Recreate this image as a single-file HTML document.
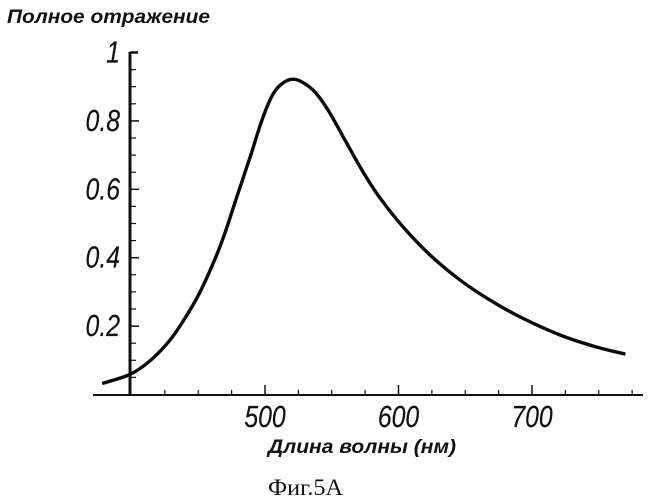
<!DOCTYPE html>
<html lang="ru">
<head>
<meta charset="utf-8">
<title>Фиг.5А</title>
<style>
html,body{margin:0;padding:0;background:#fff;width:649px;height:500px;overflow:hidden}
svg{display:block}
text{fill:#111}
.tick-label{font-family:"Liberation Sans",sans-serif;font-style:italic;font-size:31px;stroke:#111;stroke-width:0.2px}
.axis-title{font-family:"Liberation Sans",sans-serif;font-style:italic;font-weight:bold;font-size:19px}
.caption{font-family:"Liberation Serif",serif;font-size:23px}
</style>
</head>
<body>
<svg id="chart" width="649" height="500" viewBox="0 0 649 500" xmlns="http://www.w3.org/2000/svg">
<text class="axis-title" x="7" y="23" textLength="203" lengthAdjust="spacingAndGlyphs">Полное отражение</text>
<text class="axis-title" x="268" y="453" textLength="188" lengthAdjust="spacingAndGlyphs">Длина волны (нм)</text>
<text class="caption" x="268" y="495" textLength="75" lengthAdjust="spacingAndGlyphs">Фиг.5А</text>
</svg>
<script>
const wavelengths = [378,399,414,429,441,451,461,469,479,489,496.3,501.5,506.7,513.5,521,528.5,537.5,546.2,553.7,561.2,573.4,586.1,603.4,623.6,646,668.5,691,721,749,770];
const reflectance = [0.032,0.059,0.099,0.16,0.229,0.297,0.382,0.461,0.579,0.696,0.786,0.841,0.883,0.911,0.922,0.912,0.884,0.838,0.788,0.735,0.651,0.575,0.49,0.408,0.335,0.276,0.227,0.174,0.138,0.118];
const xTickValues = [500,600,700];
const yTickValues = [0.2,0.4,0.6,0.8,1];
const yTickLabels = ['0.2','0.4','0.6','0.8','1'];
const xMinorTicks = [425,450,475,525,550,575,625,650,675,725,750,775];
const yMinorTicks = [0.05,0.1,0.15,0.25,0.3,0.35,0.45,0.5,0.55,0.65,0.7,0.75,0.85,0.9,0.95];

const svgNS = 'http://www.w3.org/2000/svg';
const svg = document.getElementById('chart');
function xs(v){ return 265 + (v - 500) * 1.335; }
function ys(v){ return 394.5 - v * 342; }
function addLine(x1,y1,x2,y2,w){
  const l = document.createElementNS(svgNS,'line');
  l.setAttribute('x1',x1); l.setAttribute('y1',y1);
  l.setAttribute('x2',x2); l.setAttribute('y2',y2);
  l.setAttribute('stroke','#111'); l.setAttribute('stroke-width',w);
  svg.appendChild(l);
  return l;
}
const xAxis = addLine(93,395,643,395,2);


const yAxis = addLine(130,52,130,396,3);



xMinorTicks.forEach(function(v){
  const t = addLine(xs(v),395,xs(v),390,1.2);
  
  
});
yMinorTicks.forEach(function(v){
  const t = addLine(130,ys(v),136,ys(v),1.2);
  
  
});
xTickValues.forEach(function(v){
  const t = addLine(xs(v),395,xs(v),385,1.5);
  
  
  const label = document.createElementNS(svgNS,'text');
  label.setAttribute('class','tick-label');
  label.setAttribute('text-anchor','middle');
  label.setAttribute('transform','translate(' + xs(v) + ',427) scale(0.8,1)');
  label.textContent = String(v);
  
  
  svg.appendChild(label);
});
yTickValues.forEach(function(v,i){
  const t = addLine(130,ys(v),v === 1 ? 138 : 139,ys(v),v === 1 ? 2.5 : 1.5);
  
  
  const label = document.createElementNS(svgNS,'text');
  label.setAttribute('class','tick-label');
  label.setAttribute('text-anchor','end');
  label.setAttribute('transform','translate(120,' + (ys(v) + 10) + ') scale(0.8,1)');
  label.textContent = yTickLabels[i];
  
  
  svg.appendChild(label);
});

const pts = wavelengths.map(function(w,i){ return [xs(w), ys(reflectance[i])]; });
let d = 'M' + pts[0][0] + ' ' + pts[0][1];
for (let i = 0; i < pts.length - 1; i++) {
  const p0 = pts[Math.max(i-1,0)], p1 = pts[i], p2 = pts[i+1], p3 = pts[Math.min(i+2,pts.length-1)];
  d += ' C' + (p1[0]+(p2[0]-p0[0])/6) + ' ' + (p1[1]+(p2[1]-p0[1])/6) + ' ' +
       (p2[0]-(p3[0]-p1[0])/6) + ' ' + (p2[1]-(p3[1]-p1[1])/6) + ' ' + p2[0] + ' ' + p2[1];
}
const curve = document.createElementNS(svgNS,'path');
curve.setAttribute('d',d);
curve.setAttribute('fill','none');
curve.setAttribute('stroke','#0a0a0a');
curve.setAttribute('stroke-width','3.4');
curve.setAttribute('stroke-linejoin','round');


svg.appendChild(curve);
</script>
</body>
</html>
